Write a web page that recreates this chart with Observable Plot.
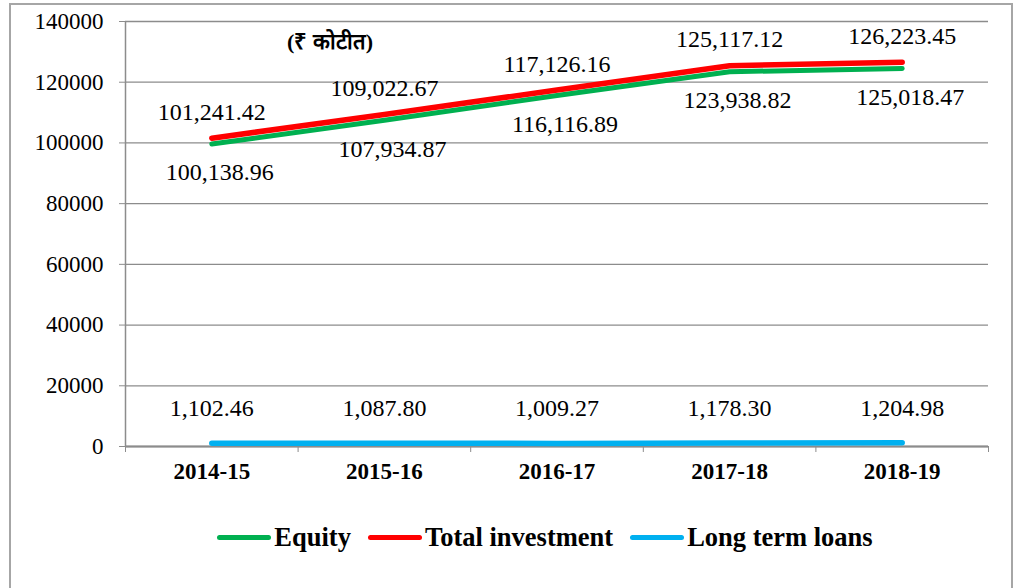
<!DOCTYPE html>
<html>
<head>
<meta charset="utf-8">
<script src="https://cdn.jsdelivr.net/npm/d3@7"></script>
<script src="https://cdn.jsdelivr.net/npm/@observablehq/plot@0.6"></script>
<style>
  html, body { margin: 0; padding: 0; background: #fff; }
  body { width: 1017px; height: 588px; position: relative; overflow: hidden; font-family: 'Liberation Serif', serif; }
  #border { position: absolute; left: 9px; top: 3px; width: 1000px; height: 620px; border: 2px solid #a6a6a6; }
  #chart { position: absolute; left: 0; top: 0; }
  #unit { position: absolute; left: 287px; top: 25px; font-weight: bold; font-size: 22px; font-family: 'Liberation Serif', serif; }
  #legend { position: absolute; top: 522px; left: 0; width: 1017px; display: flex; justify-content: center; align-items: center; font-weight: bold; font-size: 26.5px; font-family: 'Liberation Serif', serif; padding-left: 73px; box-sizing: border-box; }
  .item { display: flex; align-items: center; margin-right: 17px; }
  .item:last-child { margin-right: 0; }
  .sw { width: 54px; height: 5px; border-radius: 3px; margin-right: 3px; }
</style>
</head>
<body>
<div id="border"></div>
<div id="chart"></div>
<div id="unit">(₹ कोटीत)</div>
<div id="legend"></div>
<script>
const years = ["2014-15", "2015-16", "2016-17", "2017-18", "2018-19"];
const equity = [100138.96, 107934.87, 116116.89, 123938.82, 125018.47];
const totalInvestment = [101241.42, 109022.67, 117126.16, 125117.12, 126223.45];
const longTermLoans = [1102.46, 1087.80, 1009.27, 1178.30, 1204.98];
const seriesNames = ["Equity", "Total investment", "Long term loans"];
const seriesColors = ["#00b050", "#ff0000", "#00b0f0"];
const yTicks = [0, 20000, 40000, 60000, 80000, 100000, 120000, 140000];

const rows = (vals, s) => vals.map((v, i) => ({i, year: years[i], v, s}));
const eq = rows(equity, seriesNames[0]);
const tot = rows(totalInvestment, seriesNames[1]);
const ltl = rows(longTermLoans, seriesNames[2]);
const fmt = d3.format(",.2f");
const idx = years.map((_, i) => i);
const bounds = years.map((_, i) => i - 0.5).concat([years.length - 0.5]);

const font = "'Liberation Serif', serif";

const plot = Plot.plot({
  width: 1017,
  height: 500,
  marginLeft: 125,
  marginRight: 29,
  marginTop: 21,
  marginBottom: 54,
  style: {fontFamily: font, fontSize: "23px", color: "#000", background: "transparent"},
  x: {type: "linear", domain: [-0.5, years.length - 0.5], axis: null},
  y: {domain: [0, 140000], axis: null},
  marks: [
    Plot.gridY(yTicks, {stroke: "#8c8c8c", strokeOpacity: 1, strokeWidth: 1.3}),
    Plot.axisY(yTicks, {tickFormat: d3.format("d"), tickSize: 6, tickPadding: 16, stroke: "#8c8c8c", fontSize: 23, fontFamily: font, fill: "#000", label: null}),
    Plot.axisX(bounds, {tickFormat: () => "", tickSize: 6, stroke: "#8c8c8c", label: null}),
    Plot.axisX(idx, {tickFormat: i => years[i], tickSize: 0, tickPadding: 16, fontWeight: "bold", fontSize: 23, fontFamily: font, fill: "#000", label: null}),
    Plot.ruleX([-0.5], {stroke: "#8c8c8c", strokeWidth: 1.5}),
    Plot.ruleY([0], {stroke: "#8c8c8c", strokeWidth: 2}),
    Plot.line(eq, {x: "i", y: "v", stroke: seriesColors[0], strokeWidth: 5, strokeLinecap: "round", dy: 1.5}),
    Plot.line(tot, {x: "i", y: "v", stroke: seriesColors[1], strokeWidth: 5.5, strokeLinecap: "round", dy: -1}),
    Plot.line(ltl, {x: "i", y: "v", stroke: seriesColors[2], strokeWidth: 5.5, strokeLinecap: "round"}),
    Plot.text(tot, {x: "i", y: "v", text: d => fmt(d.v), dy: -27, fontSize: 24, fontFamily: font, fill: "#000"}),
    Plot.text(eq, {x: "i", y: "v", text: d => fmt(d.v), dy: 30, dx: 8, fontSize: 24, fontFamily: font, fill: "#000"}),
    Plot.text(ltl, {x: "i", y: "v", text: d => fmt(d.v), dy: -35, fontSize: 24, fontFamily: font, fill: "#000"})
  ]
});
document.getElementById("chart").appendChild(plot);

const legend = document.getElementById("legend");
seriesNames.forEach((name, k) => {
  const item = document.createElement("div");
  item.className = "item";
  const sw = document.createElement("span");
  sw.className = "sw";
  sw.style.background = seriesColors[k];
  const t = document.createElement("span");
  t.textContent = name;
  item.appendChild(sw);
  item.appendChild(t);
  legend.appendChild(item);
});
</script>
</body>
</html>
